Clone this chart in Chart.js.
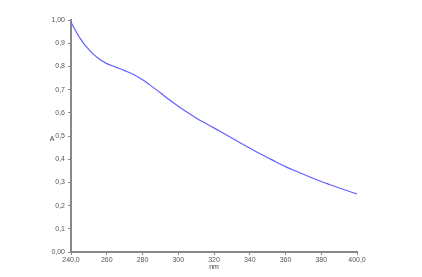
<!DOCTYPE html>
<html><head><meta charset="utf-8">
<script src="https://cdn.jsdelivr.net/npm/chart.js@4/dist/chart.umd.min.js"></script>
<style>html,body{margin:0;padding:0;background:#fff}#w{width:422px;height:277px}</style>
</head><body><div id="w"><canvas id="c"></canvas></div>
<script>
const wavelengths = [240,245,250,255,260,265,270,275,280,285,290,295,300,305,310,315,320,325,330,335,340,345,350,355,360,365,370,375,380,385,390,395,400];
const absorbance = [0.99,0.922,0.872,0.836,0.812,0.797,0.782,0.765,0.742,0.715,0.686,0.656,0.628,0.602,0.578,0.556,0.535,0.513,0.491,0.469,0.448,0.427,0.407,0.387,0.368,0.351,0.335,0.319,0.304,0.29,0.276,0.263,0.25];
const xTitle = 'nm';
const yTitle = 'A';

const grey = '#888';
const font = {family:'"Liberation Sans", Arial, sans-serif', size:7};

const yTitlePlugin = {
  id:'yTitle',
  afterDraw(chart){
    const ctx = chart.ctx;
    ctx.save();
    ctx.font = '7px "Liberation Sans", Arial, sans-serif';
    ctx.fillStyle = '#444';
    ctx.textAlign = 'center';
    ctx.textBaseline = 'middle';
    ctx.fillText(yTitle, 52, (chart.chartArea.top + chart.chartArea.bottom)/2 + 3);
    ctx.restore();
  }
};

new Chart(document.getElementById('c'), {
  type:'line',
  data:{datasets:[{
    data: wavelengths.map((x,i)=>({x, y: absorbance[i]})),
    borderColor:'rgb(96,96,255)', borderWidth:1.2, pointRadius:0, cubicInterpolationMode:'monotone', fill:false
  }]},
  options:{
    responsive:true, maintainAspectRatio:false, animation:false,
    layout:{padding:{left:0, top:20, right:65, bottom:0}},
    plugins:{legend:{display:false}, tooltip:{enabled:false}},
    scales:{
      x:{type:'linear', min:240, max:400,
        afterFit(s){ s.height = 25; },
        border:{color:grey, width:2},
        grid:{display:true, drawOnChartArea:false, drawTicks:true, tickLength:3, color:grey},
        ticks:{stepSize:20, font, color:'#555', padding:1, maxRotation:0,
          callback:v => (v===240||v===400) ? v.toFixed(1).replace('.',',') : String(v)},
        title:{display:true, text:xTitle, font, color:'#444', padding:{top:0,bottom:6}}
      },
      y:{type:'linear', min:0, max:1,
        afterFit(s){ s.width = 71; },
        border:{color:grey, width:2},
        grid:{display:true, drawOnChartArea:false, drawTicks:true, tickLength:3, color:grey},
        ticks:{stepSize:0.1, font, color:'#555', padding:3,
          callback:v => (Math.abs(v)<1e-9||Math.abs(v-1)<1e-9) ? v.toFixed(2).replace('.',',') : v.toFixed(1).replace('.',',')}
      }
    }
  },
  plugins:[yTitlePlugin]
});
</script></body></html>
